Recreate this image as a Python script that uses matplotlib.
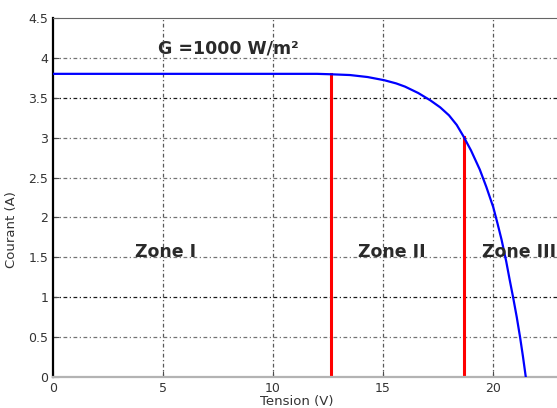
import numpy as np
from matplotlib import pyplot as plt

# I-V curve
tension = [0, 2, 4, 6, 8, 10, 12, 12.6, 13.5, 14.3, 15.06, 15.6, 16.0, 16.6, 17.14, 17.6, 18.0, 18.35, 18.65,
           19.0, 19.4, 19.7, 20.01, 20.2, 20.39, 20.6, 20.75, 20.92, 21.08, 21.23, 21.36, 21.49]
courant = [3.8, 3.8, 3.8, 3.8, 3.8, 3.8, 3.8, 3.795, 3.785, 3.76, 3.72, 3.68, 3.64, 3.56, 3.47, 3.38, 3.28, 3.16, 3.02,
           2.84, 2.6, 2.38, 2.13, 1.93, 1.72, 1.45, 1.23, 0.99, 0.75, 0.5, 0.26, 0.0]

zone_limits = [12.62, 18.67]
zone_tops = [3.8, 3.01]
zone_names = ['Zone I', 'Zone II', 'Zone III']
zone_x = [5.1, 15.4, 19.5]
zone_y = 1.57

plt.rcParams['font.family'] = ['DejaVu Sans']

fig = plt.figure(figsize=(5.57, 4.08), dpi=100)
ax = fig.add_axes([53 / 557, 31 / 408, 550 / 557, 359 / 408])

grid_style = dict(linestyle=(0, (3, 2, 1, 2)), linewidth=0.9)
for x in range(5, 25, 5):
    ax.axvline(x, zorder=0, color='0.35', **grid_style)
for y in np.arange(0.5, 4.5, 0.5):
    c = '0.1' if y in (1.0, 3.5) else '0.45'
    ax.axhline(y, zorder=0, color=c, **grid_style)

ax.plot(tension, courant, color='#0000ff', linewidth=1.6, zorder=3)
for xl, top in zip(zone_limits, zone_tops):
    ax.plot([xl, xl], [0, top], color='#ff0000', linewidth=2.2, zorder=2)

ax.text(7.95, 4.12, 'G =1000 W/m²', fontsize=12.5, fontweight='bold', ha='center', va='center', color='#2a2a2a')
for name, zx in zip(zone_names, zone_x):
    ha = 'left' if name == 'Zone III' else 'center'
    ax.text(zx, zone_y, name, fontsize=12.5, fontweight='bold', ha=ha, va='center', color='#2a2a2a')

ax.set_xlim(0, 25)
ax.set_ylim(0, 4.5)
ax.set_xticks(range(0, 25, 5))
ax.set_yticks(np.arange(0, 4.6, 0.5))
ax.set_yticklabels(['0', '0.5', '1', '1.5', '2', '2.5', '3', '3.5', '4', '4.5'])
ax.tick_params(direction='in', labelsize=9, labelcolor='#333333', length=4, color='0.3')

ax.spines['left'].set_linewidth(1.6)
ax.spines['left'].set_color('black')
ax.spines['bottom'].set_color('0.7')
ax.spines['bottom'].set_linewidth(1.6)
ax.spines['top'].set_color('0.4')
ax.spines['right'].set_visible(False)

ax.set_xlabel('Tension (V)', fontsize=9.5, color='#333333')
ax.xaxis.set_label_coords(244 / 550, -0.05)
ax.set_ylabel('Courant (A)', fontsize=9.5, color='#333333')
ax.yaxis.set_label_coords(-0.064, 0.41)

fig.savefig('out.png', dpi=100)
